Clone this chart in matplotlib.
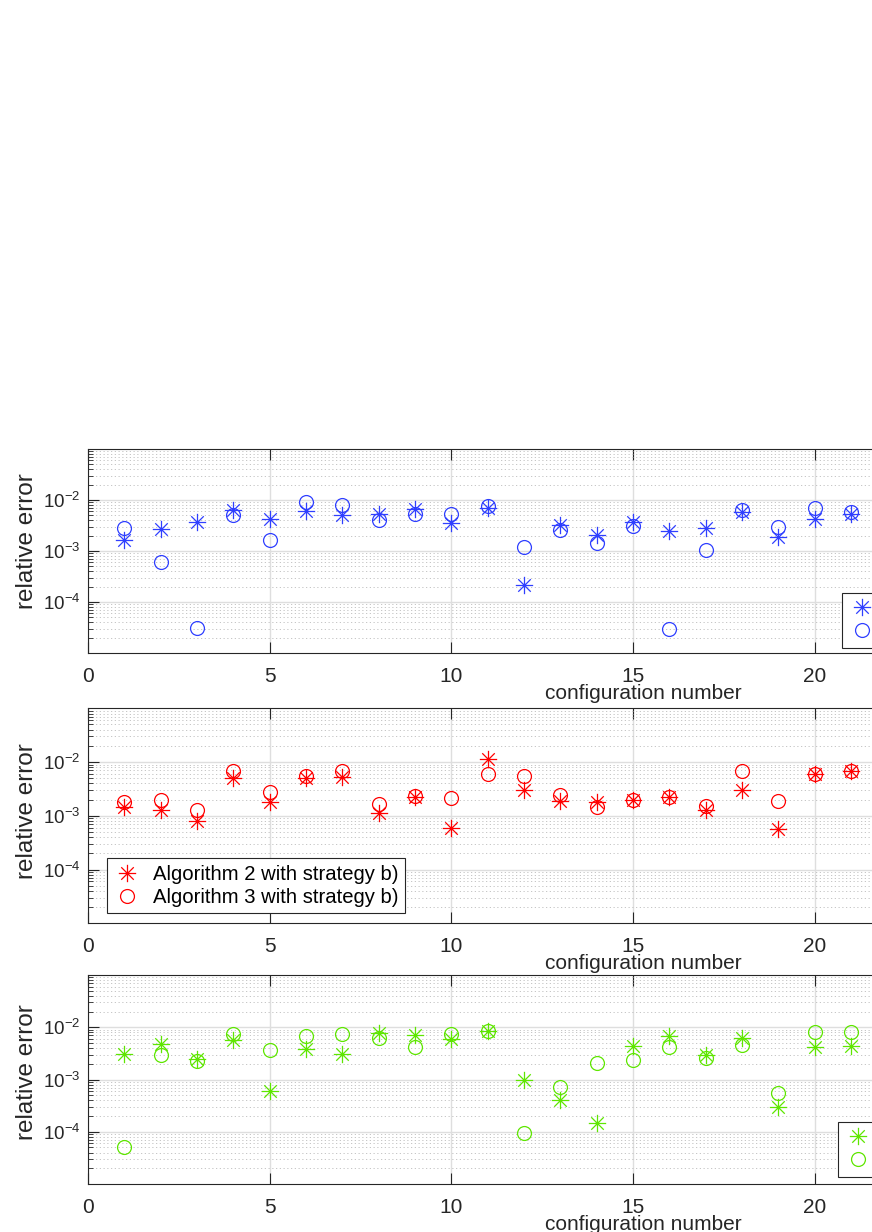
import numpy as np
import matplotlib
matplotlib.use("Agg")
import matplotlib.pyplot as plt
from matplotlib.path import Path
from matplotlib.ticker import LogLocator, NullFormatter, FixedLocator

plt.rcParams['font.family'] = ['Liberation Sans', 'DejaVu Sans']
plt.rcParams['mathtext.fontset'] = 'custom'
plt.rcParams['mathtext.rm'] = 'Liberation Sans'

config = np.arange(1, 22)

# strategy a)
alg2_a = [1.68e-3, 2.65e-3, 3.69e-3, 6.35e-3, 4.17e-3, 6.08e-3, 5.0e-3, 5.25e-3, 6.56e-3, 3.47e-3, 6.87e-3,
          2.12e-4, 3.18e-3, 2.05e-3, 3.69e-3, 2.45e-3, 2.86e-3, 5.8e-3, 1.90e-3, 4.17e-3, 5.25e-3]
alg3_a = [2.86e-3, 6.1e-4, 3.16e-5, 5.07e-3, 1.61e-3, 9.1e-3, 7.97e-3, 3.98e-3, 5.25e-3, 5.25e-3, 7.62e-3,
          1.21e-3, 2.57e-3, 1.45e-3, 3.08e-3, 3.02e-5, 1.04e-3, 6.26e-3, 2.99e-3, 7.07e-3, 5.9e-3]
# strategy b)
alg2_b = [1.47e-3, 1.28e-3, 7.98e-4, 5.06e-3, 1.77e-3, 5.13e-3, 5.27e-3, 1.11e-3, 2.25e-3, 6.0e-4, 1.16e-2,
          3.08e-3, 1.9e-3, 1.77e-3, 1.95e-3, 2.25e-3, 1.28e-3, 2.99e-3, 5.68e-4, 6.1e-3, 6.73e-3]
alg3_b = [1.77e-3, 2.01e-3, 1.28e-3, 6.73e-3, 2.78e-3, 5.5e-3, 6.73e-3, 1.65e-3, 2.32e-3, 2.16e-3, 6.1e-3,
          5.5e-3, 2.42e-3, 1.47e-3, 1.95e-3, 2.25e-3, 1.51e-3, 6.8e-3, 1.87e-3, 6.1e-3, 6.73e-3]
# strategy c)
alg2_c = [3.13e-3, 4.72e-3, 2.5e-3, 5.62e-3, 6.0e-4, 3.89e-3, 3.13e-3, 7.89e-3, 7.02e-3, 5.89e-3, 8.38e-3,
          9.9e-4, 3.97e-4, 1.48e-4, 4.38e-3, 6.82e-3, 2.99e-3, 6.34e-3, 2.96e-4, 4.2e-3, 4.38e-3]
alg3_c = [5.05e-5, 2.9e-3, 2.25e-3, 7.55e-3, 3.62e-3, 6.72e-3, 7.34e-3, 6.24e-3, 4.13e-3, 7.55e-3, 8.38e-3,
          9.5e-5, 7.15e-4, 2.1e-3, 2.4e-3, 4.2e-3, 2.58e-3, 4.52e-3, 5.5e-4, 8.13e-3, 8.13e-3]

ytick_vals = [1e-4, 1e-3, 1e-2]
ytick_text = [r'$\mathregular{10^{-4}}$', r'$\mathregular{10^{-3}}$', r'$\mathregular{10^{-2}}$']

W, H = 872, 1232
fig = plt.figure(figsize=(W / 100, H / 100), dpi=100)

# matlab style asterisk (+ and x)
d = 0.72
star = Path([(-1, 0), (1, 0), (0, -1), (0, 1), (-d, -d), (d, d), (-d, d), (d, -d)],
            [Path.MOVETO, Path.LINETO] * 4)

axcol = '#262626'


def panel(top, bottom, y2, y3, color, labels, leg_left, leg_top, ylab_y):
    ax = fig.add_axes([88 / W, 1 - bottom / H, 1090 / W, (bottom - top) / H])
    h2, = ax.plot(config, y2, linestyle='none', marker=star, ms=12.5, mec=color, mfc='none', mew=0.9)
    h3, = ax.plot(config, y3, linestyle='none', marker='o', ms=10, mec=color, mfc='none', mew=0.9)
    ax.set_yscale('log')
    ax.set_xlim(0, 30)
    ax.set_ylim(1e-5, 1e-1)
    ax.set_xticks([0, 5, 10, 15, 20, 25, 30])
    ax.yaxis.set_major_locator(FixedLocator(ytick_vals))
    ax.set_yticklabels(ytick_text)
    ax.yaxis.set_minor_locator(LogLocator(base=10, subs=np.arange(2, 10), numticks=20))
    ax.yaxis.set_minor_formatter(NullFormatter())
    ax.grid(True, which='major', color='#dedede', linewidth=1.0)
    ax.grid(True, which='minor', axis='y', color='#bdbdbd', linewidth=0.6, linestyle=(0, (1.5, 3.0)))
    ax.set_axisbelow(True)
    ax.tick_params(which='both', direction='in', top=True, right=True, colors=axcol)
    ax.tick_params(which='major', length=8, width=0.8)
    ax.tick_params(which='minor', length=3.8, width=0.6)
    ax.tick_params(axis='x', labelsize=15, pad=10)
    ax.tick_params(axis='y', labelsize=13.5, pad=5.5)
    for s in ax.spines.values():
        s.set_color(axcol)
        s.set_linewidth(0.8)
    ax.set_xlabel('configuration number', fontsize=15, color=axcol, va='baseline')
    ax.xaxis.set_label_coords((643 - 88) / 1090, -46.0 / (bottom - top))
    ax.set_ylabel('relative error', fontsize=17.5, color=axcol, va='center')
    ax.yaxis.set_label_coords((27 - 88) / 1090, (bottom - ylab_y) / (bottom - top))
    leg = ax.legend([h2, h3], labels, loc='upper left', fontsize=14.6,
                    bbox_to_anchor=(leg_left / W, 1 - leg_top / H), bbox_transform=fig.transFigure,
                    borderaxespad=0, fancybox=False, framealpha=1, edgecolor=axcol,
                    handlelength=1.35, handletextpad=0.6, borderpad=0.33, labelspacing=0.2)
    leg.get_frame().set_linewidth(0.8)
    return ax


panel(449, 653, alg2_a, alg3_a, '#2f3fff',
      ['Algorithm 2 with strategy a)', 'Algorithm 3 with strategy a)'], 842, 592.7, 541.6)
panel(708.3, 923.3, alg2_b, alg3_b, '#ff0000',
      ['Algorithm 2 with strategy b)', 'Algorithm 3 with strategy b)'], 107, 858, 810.8)
panel(975, 1184, alg2_c, alg3_c, '#5ee600',
      ['Algorithm 2 with strategy c)', 'Algorithm 3 with strategy c)'], 838, 1121.7, 1071.7)

fig.savefig('out.png', dpi=100)
